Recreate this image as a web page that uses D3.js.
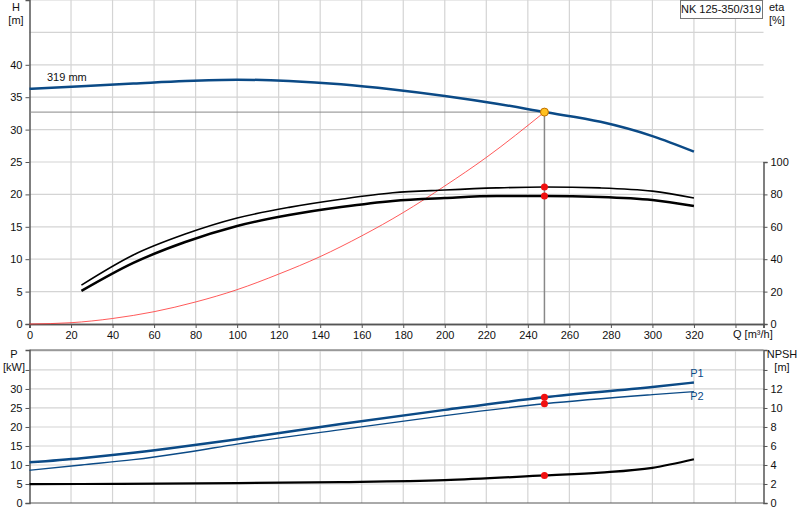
<!DOCTYPE html>
<html><head><meta charset="utf-8">
<script src="https://cdn.jsdelivr.net/npm/d3@7"></script>
<style>body{margin:0;background:#fff}svg{font-family:Arial,"Liberation Sans",sans-serif;font-size:11px}</style>
</head><body><div id="chart"></div>
<script>
// pump curve data
const qHead = [0, 25, 50, 75, 100, 125, 150, 175, 200, 225, 248, 275, 300, 320]
const head = [36.3, 36.7, 37.1, 37.5, 37.7, 37.5, 37.0, 36.2, 35.2, 34.0, 32.7, 31.2, 29.0, 26.6]
const qEta = [25, 50, 75, 100, 125, 150, 175, 200, 225, 248, 275, 300, 320]
const etaUpper = [24, 42.6, 55.5, 65.4, 72, 77, 81, 82.7, 84, 84.6, 84, 82, 77.8]
const etaLower = [20.4, 37.7, 50.6, 60.5, 67.3, 72.2, 76, 77.8, 79, 79, 78.4, 76.5, 72.8]
const qSys = [0, 20, 40, 60, 80, 100, 120, 140, 160, 180, 200, 220, 248]
const hSys = [0, 0.2, 0.85, 1.9, 3.4, 5.3, 7.7, 10.4, 13.6, 17.2, 21.3, 25.7, 32.7]
const qPow = [0, 25, 50, 75, 100, 150, 200, 248, 300, 320]
const p1 = [10.7, 11.8, 13.2, 14.9, 16.8, 20.8, 24.5, 27.8, 30.5, 31.7]
const p2 = [8.6, 10, 11.4, 13.3, 15.5, 19.3, 23, 26.1, 28.5, 29.3]
const qNpsh = [0, 25, 100, 150, 200, 248, 275, 300, 320]
const npsh = [1.98, 2.0, 2.1, 2.2, 2.4, 2.9, 3.2, 3.7, 4.6]
const duty = {q: 248, h: 32.7, eta1: 84.6, eta2: 79, p1: 27.8, p2: 26.1, npsh: 2.9}
const qTicks = d3.range(0, 321, 20)

const W = 800, H = 520
const svg = d3.select("#chart").append("svg").attr("width", W).attr("height", H)

const x = d3.scaleLinear().domain([0, 353.5]).range([29.5, 763.5])
const yH = d3.scaleLinear().domain([0, 50]).range([324, 0])
const yEta = d3.scaleLinear().domain([0, 100]).range([324, 162])
const yP = d3.scaleLinear().domain([0, 40.25]).range([503, 350])
const yN = d3.scaleLinear().domain([0, 16.1]).range([503, 350])

const grid = "#d4d4d4", blue = "#0b4a86"

// grid lines
const gx = d3.range(0, 341, 20)
function gridPanel(y0, y1, ys) {
    svg.append("g").selectAll("line.v").data(gx.slice(1)).enter().append("line")
        .attr("x1", d => x(d)).attr("x2", d => x(d)).attr("y1", y0).attr("y2", y1)
        .attr("stroke", grid).attr("stroke-width", 1.2)
    svg.append("g").selectAll("line.h").data(ys).enter().append("line")
        .attr("x1", x(0)).attr("x2", x(353.5)).attr("y1", d => d).attr("y2", d => d)
        .attr("stroke", grid).attr("stroke-width", 1.2)
}
gridPanel(0, 324, d3.range(5, 51, 5).map(yH))
gridPanel(350, 503, d3.range(5, 41, 5).map(yP))

// axes
const fmt = d3.format("d")
svg.append("g").attr("transform", `translate(${x(0)},0)`)
    .call(d3.axisLeft(yH).tickValues(d3.range(0, 41, 5)).tickSize(4).tickFormat(fmt))
svg.append("g").attr("transform", `translate(${x(353.5)},0)`)
    .call(d3.axisRight(yEta).tickValues(d3.range(0, 101, 20)).tickSize(4).tickFormat(fmt))
svg.append("g").attr("transform", `translate(0,${yH(0)})`)
    .call(d3.axisBottom(x).tickValues(qTicks).tickSize(4).tickFormat(fmt))
svg.append("g").attr("transform", `translate(0,${yH(0)})`)
    .call(d3.axisBottom(x).tickValues([340]).tickSize(4).tickFormat(""))
svg.append("g").attr("transform", `translate(${x(0)},0)`)
    .call(d3.axisLeft(yP).tickValues(d3.range(0, 36, 5)).tickSize(4).tickFormat(d => d == 35 ? "" : d))
svg.append("g").attr("transform", `translate(${x(353.5)},0)`)
    .call(d3.axisRight(yN).tickValues(d3.range(0, 15, 2)).tickSize(4).tickFormat(d => d == 14 ? "" : d))
svg.append("line").attr("x1", x(0)).attr("x2", x(353.5)).attr("y1", 503).attr("y2", 503).attr("stroke", "#555")
svg.append("line").attr("x1", x(0)).attr("x2", x(353.5)).attr("y1", 350).attr("y2", 350).attr("stroke", "#555")
svg.selectAll(".domain").attr("stroke", "#555").attr("stroke-width", 1.5)
svg.selectAll(".tick text").attr("font-size", 11).attr("fill", "#111")
svg.selectAll(".tick line").attr("stroke", "#555")

// labels
const lbl = (t, px, py, a) => svg.append("text").attr("x", px).attr("y", py).attr("text-anchor", a || "middle").attr("fill", "#111").text(t)
lbl("H", 16, 11); lbl("[m]", 16, 24)
lbl("eta", 769, 11, "start"); lbl("[%]", 769, 24, "start")
lbl("Q [m³/h]", 733, 338, "start")
lbl("P", 14, 358); lbl("[kW]", 14, 371)
lbl("NPSH", 782, 358); lbl("[m]", 782, 371)
svg.append("rect").attr("x", 680.5).attr("y", 0.5).attr("width", 82).attr("height", 18).attr("fill", "#fff").attr("stroke", "#777")
lbl("NK 125-350/319", 721, 13)
lbl("319 mm", 47, 81, "start")
svg.append("text").attr("x", 697).attr("y", 377).attr("text-anchor", "middle").attr("fill", blue).text("P1")
svg.append("text").attr("x", 697).attr("y", 400).attr("text-anchor", "middle").attr("fill", blue).text("P2")

// duty point lines
svg.append("line").attr("x1", x(0)).attr("x2", x(duty.q)).attr("y1", yH(duty.h)).attr("y2", yH(duty.h)).attr("stroke", "#888")
svg.append("line").attr("x1", x(duty.q)).attr("x2", x(duty.q)).attr("y1", yH(duty.h)).attr("y2", yH(0)).attr("stroke", "#888").attr("stroke-width", 1.5)

// curves
function curve(qs, vs, ys, color, w) {
    const line = d3.line().x((d, i) => x(qs[i])).y(d => ys(d)).curve(d3.curveMonotoneX)
    svg.append("path").attr("d", line(vs)).attr("fill", "none").attr("stroke", color).attr("stroke-width", w)
}
curve(qSys, hSys, yH, "#ff3030", 0.8)
curve(qHead, head, yH, blue, 2.5)
curve(qEta, etaUpper, yEta, "#000", 1.6)
curve(qEta, etaLower, yEta, "#000", 2.5)
curve(qPow, p1, yP, blue, 2.5)
curve(qPow, p2, yP, blue, 1.4)
curve(qNpsh, npsh, yN, "#000", 2.2)

// duty markers
const dot = (cx, cy) => svg.append("circle").attr("cx", cx).attr("cy", cy).attr("r", 3.5).attr("fill", "#f01010")
dot(x(duty.q), yEta(duty.eta1)); dot(x(duty.q), yEta(duty.eta2))
dot(x(duty.q), yP(duty.p1)); dot(x(duty.q), yP(duty.p2)); dot(x(duty.q), yN(duty.npsh))
svg.append("circle").attr("cx", x(duty.q)).attr("cy", yH(duty.h)).attr("r", 4).attr("fill", "#ffc020").attr("stroke", "#c07000")
</script></body></html>
